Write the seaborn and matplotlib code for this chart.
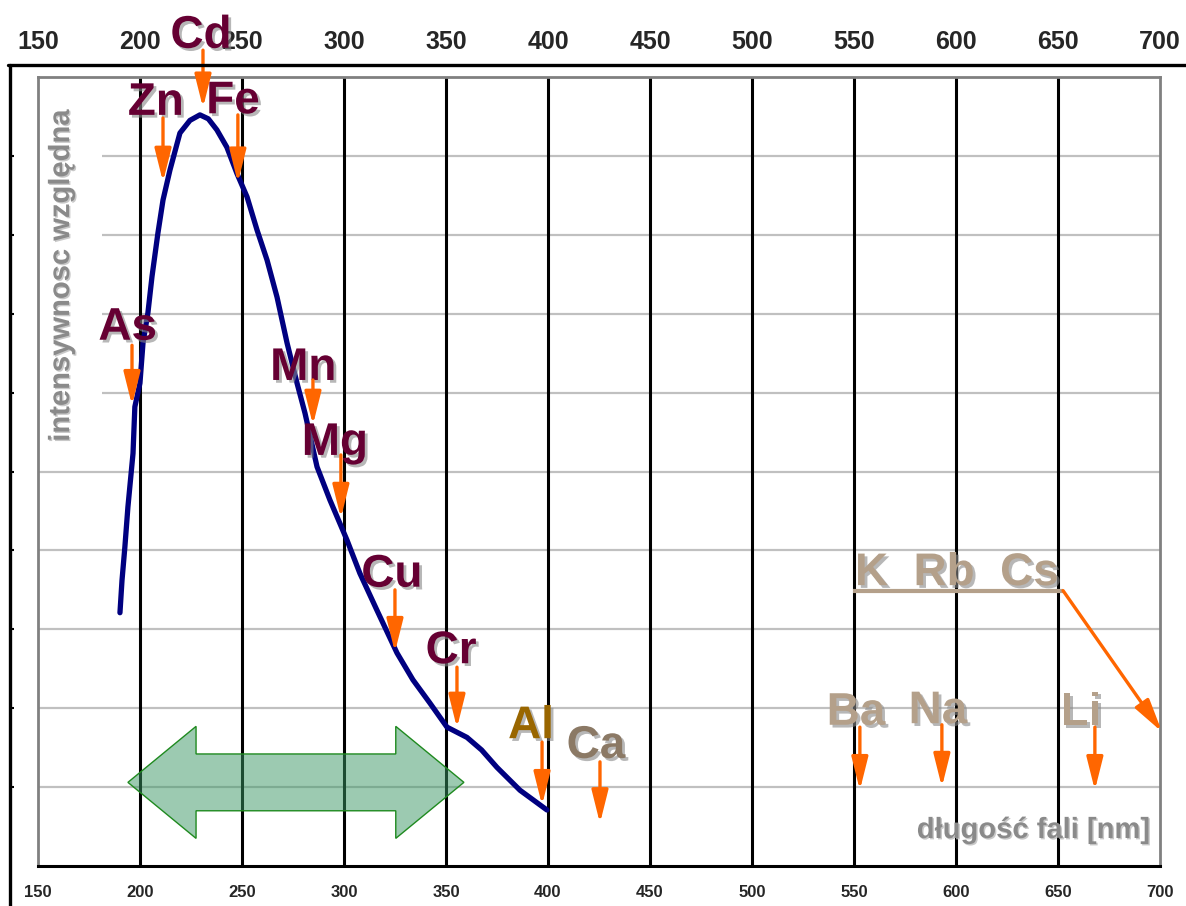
import numpy as np
import pandas as pd
import matplotlib
matplotlib.use('Agg')
import matplotlib.pyplot as plt
import matplotlib.patheffects as pe
from matplotlib.lines import Line2D
from matplotlib.patches import Polygon, Rectangle
import seaborn as sns

### krzywa czulosci
wavelength = [190.2, 191.2, 192.6, 194.1, 196.6, 197.5, 200.0, 201.5, 203.9, 205.9,
              208.8, 211.3, 214.7, 219.6, 224.5, 229.4, 233.5, 237.7, 242.6, 247.5,
              252.5, 257.4, 262.3, 267.2, 272.1, 277.0, 280.9, 286.8, 293.1, 301.5,
              307.8, 316.2, 326.0, 333.8, 342.0, 350.5, 360.3, 367.5, 375.0, 386.3, 399.5]
intensity = [3.21, 3.62, 4.04, 4.55, 5.23, 5.82, 6.12, 6.63, 7.01, 7.47,
             8.02, 8.44, 8.82, 9.29, 9.45, 9.52, 9.47, 9.33, 9.11, 8.78,
             8.48, 8.06, 7.68, 7.21, 6.63, 6.12, 5.74, 5.06, 4.64, 4.13,
             3.71, 3.24, 2.70, 2.36, 2.07, 1.76, 1.63, 1.47, 1.25, 0.96, 0.71]

### pierwiastki i ich linie [nm]
elements = ['As', 'Zn', 'Cd', 'Fe', 'Mn', 'Mg', 'Cu', 'Cr', 'Al', 'Ca', 'Ba', 'Na', 'Li']
lines_nm = [196.1, 211.3, 230.9, 248.0, 284.8, 298.5, 325.0, 355.4, 397.1, 425.5, 552.9, 593.1, 668.1]
group_name = 'K  Rb  Cs'
range_nm = (194.1, 358.8)   # zakres pracy (zielona strzalka)

x_ticks = list(range(150, 701, 50))
y_grid = list(range(1, 10))
y_label = 'intensywnosc względna'
x_label = 'długość fali [nm]'

### layout of labels: (text x, text baseline y, arrow top y, arrow tip y, colour)
maroon, gold, brown, tan = '#660033', '#996600', '#8b7965', '#b4a08a'
label_layout = [
    (194.0, 6.67, 6.60, 5.84, maroon),
    (207.8, 9.52, 9.48, 8.67, maroon),
    (229.9, 10.37, 10.34, 9.61, maroon),
    (245.6, 9.54, 9.52, 8.66, maroon),
    (280.1, 6.16, 6.16, 5.59, maroon),
    (295.6, 5.21, 5.21, 4.41, maroon),
    (323.5, 3.54, 3.50, 2.71, maroon),
    (352.5, 2.57, 2.52, 1.75, maroon),
    (391.7, 1.62, 1.57, 0.77, gold),
    (423.5, 1.37, 1.32, 0.54, brown),
    (551.0, 1.79, 1.76, 0.96, tan),
    (591.2, 1.81, 1.79, 1.00, tan),
    (661.3, 1.79, 1.76, 0.96, tan),
]

sns.set_style('white')
plt.rcParams['font.family'] = ['Liberation Sans', 'DejaVu Sans']
plt.rcParams['font.weight'] = 'bold'

fig = plt.figure(figsize=(11.86, 9.06), dpi=100)
ax = fig.add_axes([0.0320, 0.04415, 0.94604, 0.87086])
ax.set_xlim(150, 700)
ax.set_ylim(0, 10)

### siatka
for y in y_grid:
    ax.axhline(y, color='#c0c0c0', lw=1.6, zorder=1)
for x in x_ticks[1:-1]:
    ax.axvline(x, color='black', lw=2.2, zorder=1.5)

### krzywa
df = pd.DataFrame({'nm': wavelength, 'I': intensity})
sns.lineplot(data=df, x='nm', y='I', ax=ax, color='#000080', linewidth=3.8,
             estimator=None, sort=False, zorder=4)

### zielona strzalka - zakres
x0, x1 = range_nm
head = 33.4
yc, h_shaft, h_head = 1.06, 0.36, 0.71
arrow_pts = [(x0, yc), (x0 + head, yc + h_head), (x0 + head, yc + h_shaft),
             (x1 - head, yc + h_shaft), (x1 - head, yc + h_head), (x1, yc),
             (x1 - head, yc - h_head), (x1 - head, yc - h_shaft),
             (x0 + head, yc - h_shaft), (x0 + head, yc - h_head)]
ax.add_patch(Polygon(arrow_pts, closed=True, facecolor='#3b9765', alpha=0.5,
                     edgecolor='none', zorder=3))
ax.add_patch(Polygon(arrow_pts, closed=True, facecolor='none',
                     edgecolor='#1f8a1f', lw=1.0, zorder=3))

shadow = [pe.SimplePatchShadow(offset=(2, -2), shadow_rgbFace='#888888', alpha=0.6), pe.Normal()]
orange = '#ff6600'

for name, nm, (tx, ty, ay0, ay1, col) in zip(elements, lines_nm, label_layout):
    ax.text(tx, ty, name, ha='center', va='baseline', fontsize=33, fontweight='bold',
            color=col, path_effects=shadow, zorder=6, clip_on=False)
    ax.annotate('', xy=(nm, ay1), xytext=(nm, ay0),
                arrowprops=dict(arrowstyle='-|>,head_length=2.0,head_width=0.5',
                                mutation_scale=10, color=orange, lw=2.4,
                                shrinkA=0, shrinkB=0),
                zorder=7, annotation_clip=False)

### K Rb Cs
ax.text(550.5, 3.56, group_name, ha='left', va='baseline', fontsize=33, fontweight='bold',
        color=tan, path_effects=shadow, zorder=6)
ax.plot([549.5, 652.5], [3.49, 3.49], color=tan, lw=3, zorder=5, solid_capstyle='butt')
ax.annotate('', xy=(701.0, 1.70), xytext=(652.5, 3.49),
            arrowprops=dict(arrowstyle='-|>,head_length=2.0,head_width=0.5',
                            mutation_scale=10, color=orange, lw=2.4,
                            shrinkA=0, shrinkB=0),
            zorder=7, annotation_clip=False)

### opisy osi
ax.add_patch(Rectangle((150.4, 5.2), 31, 4.5, facecolor='white', edgecolor='none', zorder=2))
ax.text(161.3, 7.48, y_label, rotation=90, ha='center', va='center', fontsize=21,
        fontweight='bold', color='#8a8a8a', zorder=6,
        path_effects=[pe.SimplePatchShadow(offset=(1, -1), shadow_rgbFace='#bbbbbb', alpha=0.8), pe.Normal()])
ax.text(695.0, 0.355, x_label, ha='right', va='baseline', fontsize=21,
        fontweight='bold', color='#8a8a8a', zorder=6,
        path_effects=[pe.SimplePatchShadow(offset=(1, -1), shadow_rgbFace='#bbbbbb', alpha=0.8), pe.Normal()])

### osie
for s in ['left', 'top', 'right']:
    ax.spines[s].set_color('#808080')
    ax.spines[s].set_linewidth(2)
ax.spines['bottom'].set_color('black')
ax.spines['bottom'].set_linewidth(2.2)
ax.set_xticks(x_ticks)
ax.set_xticklabels([str(t) for t in x_ticks], fontsize=12, fontweight='bold')
ax.set_yticks([])
ax.tick_params(axis='x', direction='out', length=5, width=2, color='black', pad=9)
ax.set_xlabel('')
ax.set_ylabel('')

top = ax.secondary_xaxis(1.0152)
top.set_xticks(x_ticks)
top.set_xticklabels([str(t) for t in x_ticks], fontsize=18, fontweight='bold')
top.tick_params(length=0, pad=8)
top.spines['top'].set_visible(False)

left = ax.secondary_yaxis(-0.025)
left.set_yticks(y_grid)
left.set_yticklabels([])
left.tick_params(direction='in', length=3, width=1.5, color='black')
left.spines['left'].set_visible(False)

### ramka zewnetrzna
fig.add_artist(Line2D([8 / 1186, 1], [0.9283, 0.9283], color='black', lw=2.4))
fig.add_artist(Line2D([10 / 1186, 10 / 1186], [0, 0.9283], color='black', lw=2.4))

fig.savefig('out.png', dpi=100)
